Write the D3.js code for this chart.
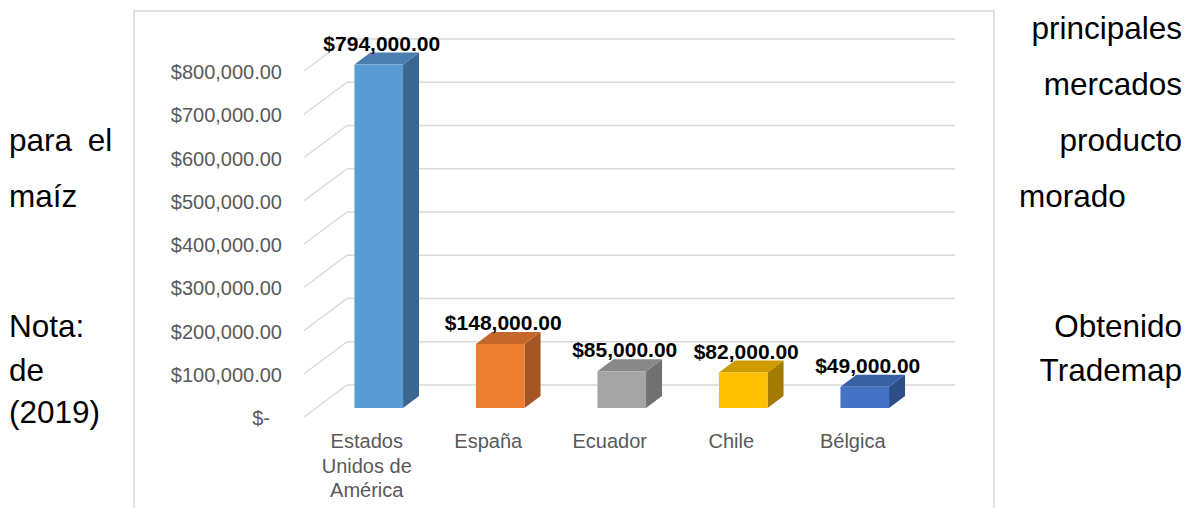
<!DOCTYPE html>
<html>
<head>
<meta charset="utf-8">
<script src="https://cdn.jsdelivr.net/npm/d3@7"></script>
<style>
  html, body { margin: 0; padding: 0; background: #fff; }
  svg { display: block; }
  text { font-family: "Liberation Sans", Arial, sans-serif; }
</style>
</head>
<body>
<svg id="chart" width="1193" height="508"></svg>
<script>
// ---- data ----
const categories = [["Estados", "Unidos de", "América"], ["España"], ["Ecuador"], ["Chile"], ["Bélgica"]];
const values = [794000, 148000, 85000, 82000, 49000];
const valueLabels = ["$794,000.00", "$148,000.00", "$85,000.00", "$82,000.00", "$49,000.00"];
const tickValues = [0, 100000, 200000, 300000, 400000, 500000, 600000, 700000, 800000];
const tickLabels = ["$-", "$100,000.00", "$200,000.00", "$300,000.00", "$400,000.00", "$500,000.00", "$600,000.00", "$700,000.00", "$800,000.00"];
const frontColors = ["#5B9BD5", "#ED7D31", "#A5A5A5", "#FFC000", "#4472C4"];
const topColors = ["#4A7DB0", "#C3672A", "#888888", "#CF9C00", "#3860A3"];
const sideColors = ["#3B6690", "#A35523", "#717171", "#A37B00", "#2D4D86"];
const leftLines = ["para el", "maíz", "Nota:", "de", "(2019)"];
const rightLines = ["principales", "mercados", "producto", "morado", "Obtenido", "Trademap"];

const svg = d3.select("#chart");
svg.append("rect").attr("width", 1193).attr("height", 508).attr("fill", "#fff");

// chart frame
svg.append("rect").attr("x", 134).attr("y", 11).attr("width", 860).attr("height", 520)
  .attr("fill", "none").attr("stroke", "#d9d9d9").attr("stroke-width", 1.5);

// scales
const yBack = d3.scaleLinear().domain([0, 800000]).range([385, 39]);
const wallDX = 43, wallDY = 32;      // front edge offset relative to back wall
const barDY = 23;                     // bar front plane offset from back wall
const depthDX = 16, depthDY = 12;     // bar depth
const backX0 = 347, backX1 = 955;

const x = d3.scaleBand().domain(d3.range(values.length))
  .range([318, 925.5]).paddingInner(0.6).paddingOuter(0.3);

// gridlines
const grid = svg.append("g").attr("stroke", "#d9d9d9").attr("stroke-width", 1.4).attr("fill", "none");
tickValues.forEach(v => {
  const yb = yBack(v);
  grid.append("line").attr("x1", backX0).attr("x2", backX1).attr("y1", yb).attr("y2", yb);
  grid.append("line").attr("x1", backX0 - wallDX).attr("y1", yb + wallDY).attr("x2", backX0).attr("y2", yb);
});

// y tick labels
svg.append("g").selectAll("text").data(tickValues).join("text")
  .attr("x", (d) => d === 0 ? 270 : 282)
  .attr("y", d => yBack(d) + wallDY + 1)
  .attr("text-anchor", "end")
  .attr("dominant-baseline", "central")
  .attr("font-size", 20)
  .attr("fill", "#595959")
  .text((d, i) => tickLabels[i]);

// bars
const bars = svg.append("g");
values.forEach((v, i) => {
  const x0 = x(i), x1 = x(i) + x.bandwidth();
  const yTop = yBack(v) + barDY, yBot = yBack(0) + barDY;
  bars.append("path")
    .attr("d", `M${x1},${yTop} L${x1 + depthDX},${yTop - depthDY} L${x1 + depthDX},${yBot - depthDY} L${x1},${yBot} Z`)
    .attr("fill", sideColors[i]);
  bars.append("path")
    .attr("d", `M${x0},${yTop} L${x0 + depthDX},${yTop - depthDY} L${x1 + depthDX},${yTop - depthDY} L${x1},${yTop} Z`)
    .attr("fill", topColors[i]);
  bars.append("rect").attr("x", x0).attr("y", yTop).attr("width", x1 - x0).attr("height", yBot - yTop)
    .attr("fill", frontColors[i]);
  bars.append("text")
    .attr("x", (x0 + x1) / 2 + 3)
    .attr("y", yTop - depthDY - 2)
    .attr("text-anchor", "middle")
    .attr("font-size", 21)
    .attr("font-weight", "bold")
    .attr("fill", "#000")
    .text(valueLabels[i]);
});

// category labels
const catG = svg.append("g");
categories.forEach((lines, i) => {
  const cx = x(i) + x.bandwidth() / 2 - 12;
  lines.forEach((ln, j) => {
    catG.append("text")
      .attr("x", cx).attr("y", 448 + j * 24.5)
      .attr("text-anchor", "middle")
      .attr("font-size", 20)
      .attr("fill", "#595959")
      .text(ln);
  });
});

// surrounding paragraph text
const leftY = [151, 207, 337, 381, 423];
const rightY = [39, 95, 151, 207, 337, 381];
svg.append("g").selectAll("text").data(leftLines).join("text")
  .attr("x", 9).attr("y", (d, i) => leftY[i])
  .attr("font-size", 31.5).attr("fill", "#000")
  .attr("word-spacing", d => d === "para el" ? 7 : 0)
  .text(d => d);
svg.append("g").selectAll("text").data(rightLines).join("text")
  .attr("x", d => d === "morado" ? 1019 : 1182)
  .attr("y", (d, i) => rightY[i])
  .attr("text-anchor", d => d === "morado" ? "start" : "end")
  .attr("font-size", 31.5).attr("fill", "#000")
  .text(d => d);
</script>
</body>
</html>
